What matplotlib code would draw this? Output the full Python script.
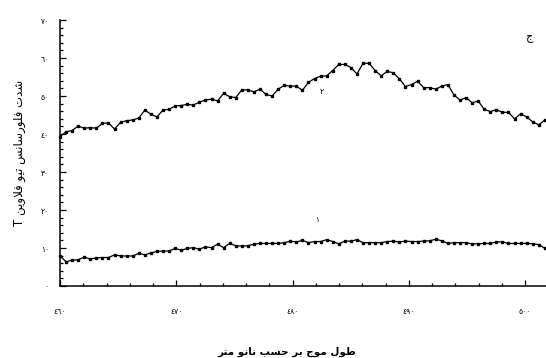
import numpy as np
import matplotlib
matplotlib.use("Agg")
import matplotlib.pyplot as plt
from matplotlib.ticker import MultipleLocator

# fluorescence intensity, 81 points each, left to right
curve_2 = [39.3, 40.6, 40.9, 42.1, 41.5, 41.7, 41.5, 42.8, 42.9, 41.3,
           43.1, 43.5, 43.7, 44.2, 46.3, 45.2, 44.5, 46.3, 46.5,
           47.4, 47.5, 47.8, 47.6, 48.4, 48.9, 49.2, 48.7, 50.7, 49.8,
           49.6, 51.6, 51.6, 51.1, 51.8, 50.4, 50.0, 51.8, 52.8, 52.6,
           52.6, 51.5, 53.6, 54.6, 55.2, 55.3, 56.7, 58.3, 58.3, 57.5,
           55.8, 58.6, 58.6, 56.7, 55.3, 56.5, 56.1, 54.5, 52.5, 53.0,
           53.9, 52.2, 52.2, 51.8, 52.6, 53.0, 50.3, 48.9, 49.6, 48.2,
           48.7, 46.5, 45.9, 46.4, 45.7, 45.7, 44.0, 45.3, 44.5, 43.2,
           42.4, 43.7]
curve_1 = [7.9, 6.4, 6.8, 6.9, 7.6, 7.1, 7.4, 7.5, 7.5, 8.2,
           7.9, 7.9, 7.9, 8.6, 8.2, 8.7, 9.1, 9.2, 9.2, 9.9,
           9.4, 9.9, 10.1, 9.7, 10.3, 10.1, 11.0, 10.1, 11.2, 10.6,
           10.5, 10.6, 11.0, 11.2, 11.2, 11.2, 11.2, 11.4, 11.8, 11.6,
           12.0, 11.4, 11.7, 11.7, 12.2, 11.7, 11.1, 11.8, 11.8, 12.2,
           11.4, 11.4, 11.4, 11.4, 11.7, 11.8, 11.6, 11.8, 11.7, 11.7,
           11.8, 11.9, 12.3, 11.9, 11.2, 11.4, 11.4, 11.4, 11.1, 11.1,
           11.2, 11.2, 11.6, 11.6, 11.2, 11.2, 11.2, 11.2, 11.1, 10.9,
           9.9]
wave_start, wave_end = 460, 501.7

x_ticks = [460, 470, 480, 490, 500]
y_ticks = [0, 10, 20, 30, 40, 50, 60, 70]

AR_DIGITS = "٠١٢٣٤٥٦٧٨٩"

# isolated, final, initial, medial (None = letter does not join forward)
FORMS = {
    'ا': ('\uFE8D', '\uFE8E', None, None),
    'ب': ('\uFE8F', '\uFE90', '\uFE91', '\uFE92'),
    'ت': ('\uFE95', '\uFE96', '\uFE97', '\uFE98'),
    'ج': ('\uFE9D', '\uFE9E', '\uFE9F', '\uFEA0'),
    'ح': ('\uFEA1', '\uFEA2', '\uFEA3', '\uFEA4'),
    'د': ('\uFEA9', '\uFEAA', None, None),
    'ر': ('\uFEAD', '\uFEAE', None, None),
    'س': ('\uFEB1', '\uFEB2', '\uFEB3', '\uFEB4'),
    'ش': ('\uFEB5', '\uFEB6', '\uFEB7', '\uFEB8'),
    'ط': ('\uFEC1', '\uFEC2', '\uFEC3', '\uFEC4'),
    'ف': ('\uFED1', '\uFED2', '\uFED3', '\uFED4'),
    'ل': ('\uFEDD', '\uFEDE', '\uFEDF', '\uFEE0'),
    'م': ('\uFEE1', '\uFEE2', '\uFEE3', '\uFEE4'),
    'ن': ('\uFEE5', '\uFEE6', '\uFEE7', '\uFEE8'),
    'و': ('\uFEED', '\uFEEE', None, None),
    'ی': ('\uFBFC', '\uFBFD', '\uFEF3', '\uFEF4'),
}


def ar_num(n):
    return "".join(AR_DIGITS[int(d)] for d in str(n))


def shape(text):
    # matplotlib has no arabic shaping, so pick joined forms and put them in visual order
    out = []
    for w in text.split(" "):
        if w[0] not in FORMS:
            out.append(w)
            continue
        glyphs = []
        prev = None
        i = 0
        while i < len(w):
            c = w[i]
            joins_prev = prev is not None and FORMS[prev][2] is not None
            if c == 'ل' and i + 1 < len(w) and w[i + 1] == 'ا':
                glyphs.append('\uFEFC' if joins_prev else '\uFEFB')
                prev = 'ا'
                i += 2
                continue
            joins_next = FORMS[c][2] is not None and i + 1 < len(w)
            iso, fin, ini, med = FORMS[c]
            if joins_prev and joins_next:
                g = med
            elif joins_prev:
                g = fin
            elif joins_next:
                g = ini
            else:
                g = iso
            glyphs.append(g)
            prev = c
            i += 1
        out.append("".join(reversed(glyphs)))
    return " ".join(reversed(out))


plt.rcParams['font.family'] = ['DejaVu Sans']

wave = np.linspace(wave_start, wave_end, len(curve_2))

fig = plt.figure(figsize=(5.46, 3.58), dpi=100)
ax = fig.add_axes([60 / 546, 72 / 358, 486 / 546, 266 / 358])

ax.plot(wave, curve_2, color='black', lw=0.9, marker='s', ms=1.7, clip_on=False)
ax.plot(wave, curve_1, color='black', lw=0.9, marker='s', ms=1.7, clip_on=False)

ax.set_xlim(460, 501.8)
ax.set_ylim(0, 70)
ax.set_xticks(x_ticks)
ax.set_xticklabels([ar_num(v) for v in x_ticks])
ax.set_yticks(y_ticks)
ax.set_yticklabels([ar_num(v) for v in y_ticks])
ax.xaxis.set_minor_locator(MultipleLocator(2))
ax.yaxis.set_minor_locator(MultipleLocator(2))
ax.tick_params(which='both', direction='in', width=0.9, labelsize=5.5)
ax.tick_params(which='major', length=4)
ax.tick_params(which='minor', length=2.5)
ax.tick_params(axis='x', pad=15)
ax.tick_params(axis='y', pad=8)

for s in ['top', 'right']:
    ax.spines[s].set_visible(False)
for s in ['left', 'bottom']:
    ax.spines[s].set_linewidth(1.1)

ax.text(482.5, 51.1, ar_num(2), fontsize=5.5, ha='center', va='center')
ax.text(482.1, 17.4, ar_num(1), fontsize=5.5, ha='center', va='center')
ax.text(500.3, 65.2, shape('ج'), fontsize=8, ha='center', va='center')

fig.text(287 / 546, 6 / 358, shape('طول موج بر حسب نانو متر'),
         fontsize=7.5, fontweight='bold', ha='center', va='center')
fig.text(20 / 546, 205 / 358, shape('شدت فلورسانس تیو فلاوین T'),
         fontsize=8.5, rotation=90, ha='center', va='center')

fig.savefig('out.png', dpi=100)
